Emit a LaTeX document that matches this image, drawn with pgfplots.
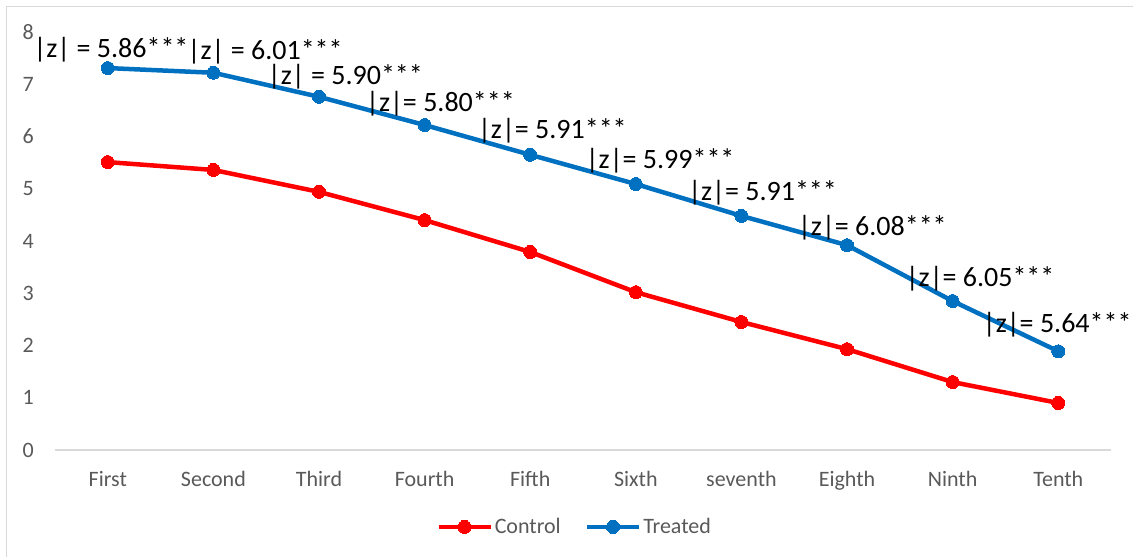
\documentclass[border=0pt]{standalone}
\usepackage{pgfplots}
\pgfplotsset{compat=1.18}
\usepackage{fontspec}
\setmainfont{Carlito}
\definecolor{ctrl}{HTML}{FF0000}
\definecolor{treat}{HTML}{0070C0}
\definecolor{ticktxt}{HTML}{595959}
\definecolor{linegray}{HTML}{D9D9D9}
\begin{document}
\begin{tikzpicture}
\useasboundingbox (0pt,0pt) rectangle (1133pt,-557pt);
\draw[linegray, line width=1.5pt] (6.5pt,-557pt) -- (6.5pt,-6.5pt) -- (1133pt,-6.5pt);
\begin{axis}[
  at={(55pt,-450pt)}, anchor=south west,
  scale only axis, width=1056pt, height=418pt,
  xmin=-0.5, xmax=9.5, ymin=0, ymax=8,
  clip=false,
  /pgf/number format/assume math mode=true,
  axis x line*=bottom, axis y line*=left,
  x axis line style={draw=linegray, line width=1.5pt},
  y axis line style={draw=none},
  tick style={draw=none},
  xtick={0,...,9},
  xticklabels={First,Second,Third,Fourth,Fifth,Sixth,seventh,Eighth,Ninth,Tenth},
  ytick={0,...,8},
  ticklabel style={font=\fontsize{22}{26}\selectfont, text=ticktxt},
  yticklabel style={anchor=east, inner sep=0pt, xshift=-21pt},
  xticklabel style={anchor=base, inner sep=0pt, yshift=-36pt},
  legend style={at={(0.492,-0.184)}, anchor=center, draw=none, fill=none,
    legend columns=2, font=\fontsize{22}{26}\selectfont, text=ticktxt,
    inner sep=0pt, nodes={inner sep=2pt},
    /tikz/every even column/.append style={column sep=22pt}},
  legend image code/.code={\draw[#1, mark repeat=2, mark phase=2] plot coordinates {(0pt,0pt) (26pt,0pt) (52pt,0pt)};},
]
\addplot[ctrl, line width=4.5pt, mark=*, mark size=6.5pt, mark options={solid, fill=ctrl, draw=ctrl, line width=0pt}]
coordinates {(0,5.51) (1,5.36) (2,4.94) (3,4.40) (4,3.79) (5,3.02) (6,2.45) (7,1.93) (8,1.30) (9,0.90)};
\addlegendentry{Control}
\addplot[treat, line width=4.5pt, mark=*, mark size=6.5pt, mark options={solid, fill=treat, draw=treat, line width=0pt}]
coordinates {(0,7.31) (1,7.22) (2,6.76) (3,6.22) (4,5.65) (5,5.09) (6,4.48) (7,3.92) (8,2.85) (9,1.89)};
\addlegendentry{Treated}
\begin{scope}[every node/.style={font=\fontsize{28}{33}\selectfont, text=black, inner sep=0pt}]
\node at (axis cs:0.03,7.66) {|z| = 5.86***};
\node at (axis cs:1.49,7.62) {|z| = 6.01***};
\node at (axis cs:2.25,7.14) {|z| = 5.90***};
\node at (axis cs:3.15,6.62) {|z|= 5.80***};
\node at (axis cs:4.21,6.11) {|z|= 5.91***};
\node at (axis cs:5.23,5.53) {|z|= 5.99***};
\node at (axis cs:6.20,4.92) {|z|= 5.91***};
\node at (axis cs:7.24,4.25) {|z|= 6.08***};
\node at (axis cs:8.26,3.27) {|z|= 6.05***};
\node at (axis cs:8.99,2.39) {|z|= 5.64***};
\end{scope}
\end{axis}
\end{tikzpicture}
\end{document}
